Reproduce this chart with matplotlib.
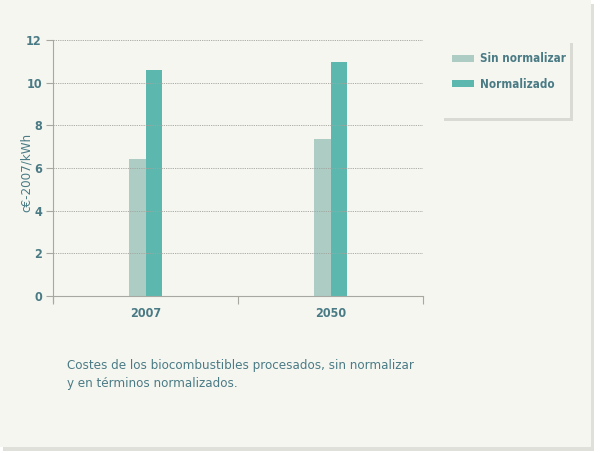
import matplotlib
matplotlib.use("Agg")
import matplotlib.pyplot as plt
from matplotlib.patches import Rectangle
import numpy as np

categories = ["2007", "2050"]
sin_normalizar = [6.4, 7.35]
normalizado = [10.6, 10.95]
series_names = ["Sin normalizar", "Normalizado"]
yticks = [0, 2, 4, 6, 8, 10, 12]

plt.rcParams['font.family'] = ['DejaVu Sans']
plt.rcParams['font.stretch'] = 'condensed'

BG = "#f6f6f1"
TXT = "#4a7b85"
C1 = "#acccc4"
C2 = "#5cb8ae"
AX = "#a8a8a0"

fig = plt.figure(figsize=(6, 4.53), dpi=100)
fig.patch.set_facecolor("white")
W, H = 600, 453
# panel with shadow
fig.patches.append(Rectangle((3 / W, 2 / H), 591 / W, 1 - 6 / H, transform=fig.transFigure,
                             facecolor="#e0e0db", edgecolor="none", zorder=0))
fig.patches.append(Rectangle((0, 6 / H), 591 / W, 1 - 6 / H, transform=fig.transFigure,
                             facecolor=BG, edgecolor="none", zorder=0))

ax = fig.add_axes([53 / W, 1 - 296 / H, (423 - 53) / W, (296 - 40) / H])
ax.set_zorder(5)
ax.set_facecolor("none")
x = np.arange(len(categories))
bw = 0.09
ax.bar(x - bw / 2, sin_normalizar, bw, color=C1, zorder=2, label=series_names[0])
ax.bar(x + bw / 2, normalizado, bw, color=C2, zorder=2, label=series_names[1])
ax.set_xlim(-0.5, 1.5)
ax.set_ylim(0, 12)
ax.set_yticks(yticks)
ax.set_yticklabels([str(v) for v in yticks], fontsize=9, fontweight="bold", color=TXT)
ax.set_xticks([-0.5, 0.5, 1.5])
ax.set_xticklabels([])
ax.set_xticks(x, minor=True)
ax.set_xticklabels(categories, minor=True, fontsize=9, fontweight="bold", color=TXT)
ax.tick_params(axis="x", which="minor", length=0, pad=8)
ax.tick_params(axis="x", which="major", length=6, color=AX, direction="out")
ax.tick_params(axis="y", length=5, color=AX, direction="out", pad=3)
for yv in yticks[1:]:
    ax.axhline(yv, color="#a3a39d", lw=0.6, ls=(0, (1.5, 1.2)), zorder=3)
for s in ["top", "right"]:
    ax.spines[s].set_visible(False)
ax.spines["left"].set_color(AX)
ax.spines["bottom"].set_color(AX)
ax.spines["left"].set_bounds(-0.3, 12)
fig.text(26 / W, 1 - 172 / H, "c€-2007/kWh", rotation=90, ha="center", va="center",
         fontsize=9.5, color=TXT)

# legend box with shadow
lx, ly, lw, lh = 441, 40, 129, 78
fig.patches.append(Rectangle(((lx + 3) / W, 1 - (ly + lh + 3) / H), lw / W, lh / H,
                             transform=fig.transFigure, facecolor="#dadad5", edgecolor="none", zorder=1))
fig.patches.append(Rectangle((lx / W, 1 - (ly + lh) / H), lw / W, lh / H,
                             transform=fig.transFigure, facecolor=BG, edgecolor="none", zorder=1))
for i, (name, col) in enumerate(zip(series_names, [C1, C2])):
    yy = 59 + i * 25
    fig.patches.append(Rectangle((452 / W, 1 - (yy + 3) / H), 22 / W, 7 / H,
                                 transform=fig.transFigure, facecolor=col, edgecolor="none", zorder=2))
    fig.text(480 / W, 1 - yy / H, name, fontsize=8.4, fontweight="bold", color=TXT,
             va="center", ha="left", zorder=3)

fig.text(67 / W, 1 - 365 / H, "Costes de los biocombustibles procesados, sin normalizar",
         fontsize=9.5, color=TXT, va="center", ha="left")
fig.text(67 / W, 1 - 383 / H, "y en términos normalizados.",
         fontsize=9.5, color=TXT, va="center", ha="left")

fig.savefig("out.png", dpi=100, facecolor=fig.get_facecolor())
